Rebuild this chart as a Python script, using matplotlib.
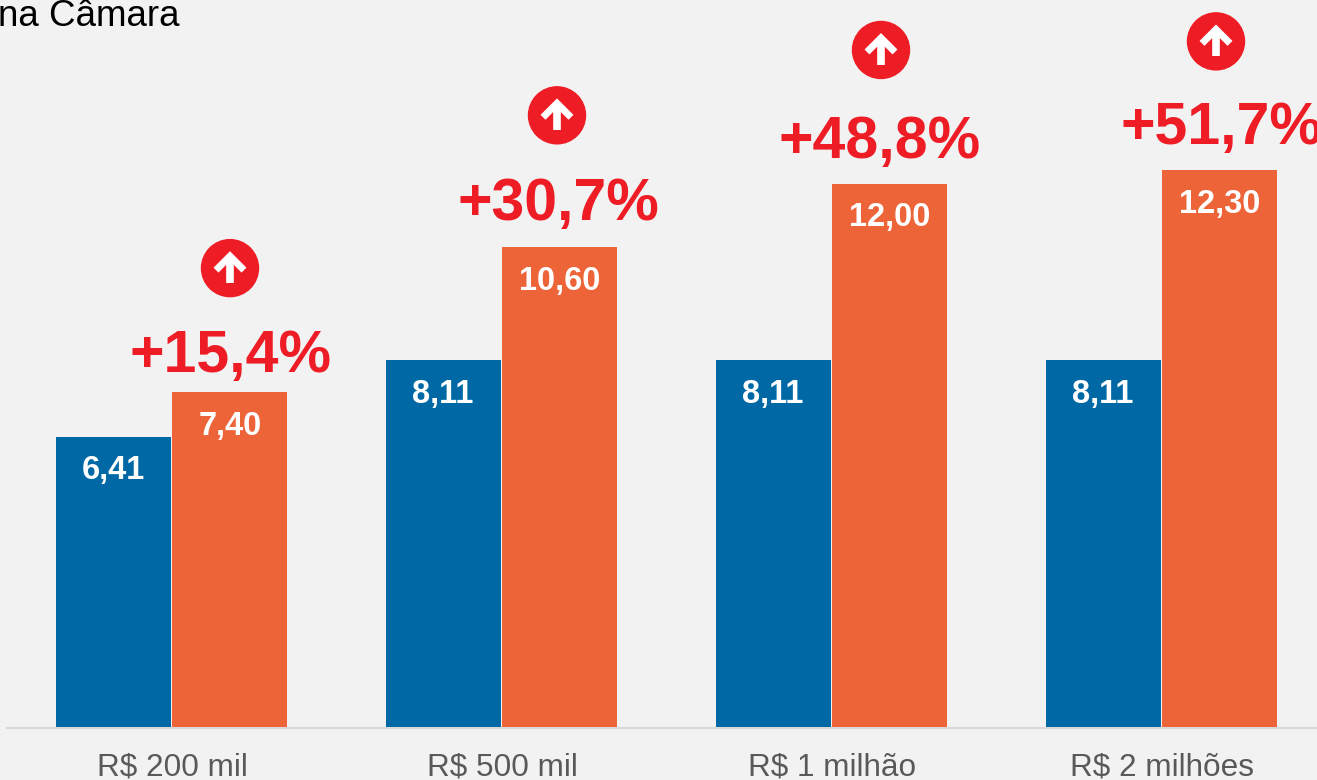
import matplotlib
matplotlib.use('Agg')
import matplotlib.pyplot as plt
from matplotlib.patches import Circle
import numpy as np

plt.rcParams['font.family'] = ['Liberation Sans', 'DejaVu Sans']

categorias = ['R$ 200 mil', 'R$ 500 mil', 'R$ 1 milhão', 'R$ 2 milhões']
antes = [6.41, 8.11, 8.11, 8.11]
depois = [7.40, 10.60, 12.00, 12.30]
rot_antes = ['6,41', '8,11', '8,11', '8,11']
rot_depois = ['7,40', '10,60', '12,00', '12,30']
aumento = ['+15,4%', '+30,7%', '+48,8%', '+51,7%']

# posicoes das anotacoes, em pixels
pct_x = [230, 558, 880, 1221]
pct_dy = [36, 43, 41, 42]
seta_x = [230, 557, 881, 1216]
seta_dy = [124, 132, 134, 129]

W, H = 1317, 780
fig = plt.figure(figsize=(W / 100, H / 100), dpi=100, facecolor='#f2f2f2')
ax = fig.add_axes([0, 0, 1, 1], facecolor='#f2f2f2')
ax.set_xlim(0, W)
ax.set_ylim(H, 0)
ax.axis('off')

base = 727
esc = 367 / 8.11
x_grupo = np.array([172, 502, 832, 1162])
vermelho = '#ee1c25'

ax.plot([7, W], [base + 1, base + 1], color='#d9d9d9', lw=1.5, zorder=1)

for i in range(4):
    x = x_grupo[i]
    h1 = antes[i] * esc
    h2 = depois[i] * esc
    topo = base - h2
    ax.bar(x - 58.5, h1, width=115, bottom=base - h1, color='#0069a5', zorder=2)
    ax.bar(x + 57.5, h2, width=115, bottom=base - h2, color='#ec6437', zorder=2)
    ax.text(x - 59, base - h1 + 34, rot_antes[i], color='white', fontsize=23.5,
            fontweight='bold', ha='center', va='center', zorder=3)
    ax.text(x + 58, topo + 34, rot_depois[i], color='white', fontsize=23.5,
            fontweight='bold', ha='center', va='center', zorder=3)
    ax.text(x, 767, categorias[i], color='#595959', fontsize=22.7, ha='center', va='center')

    ax.text(pct_x[i], topo - pct_dy[i], aumento[i], color=vermelho, fontsize=42.5,
            fontweight='bold', ha='center', va='center', zorder=4)

    cx = seta_x[i]
    cy = topo - seta_dy[i]
    ax.add_patch(Circle((cx, cy), 28.5, color=vermelho, zorder=4))
    ax.plot([cx, cx], [cy + 15, cy - 12], color='white', lw=5.5, solid_capstyle='butt', zorder=5)
    ax.plot([cx - 14, cx, cx + 14], [cy + 2, cy - 12, cy + 2], color='white', lw=5,
            solid_joinstyle='miter', solid_capstyle='butt', zorder=5)

ax.text(-2, 17, 'na Câmara', color='black', fontsize=26.5, ha='left', va='center')

fig.savefig('out.png', dpi=100, facecolor=fig.get_facecolor())
